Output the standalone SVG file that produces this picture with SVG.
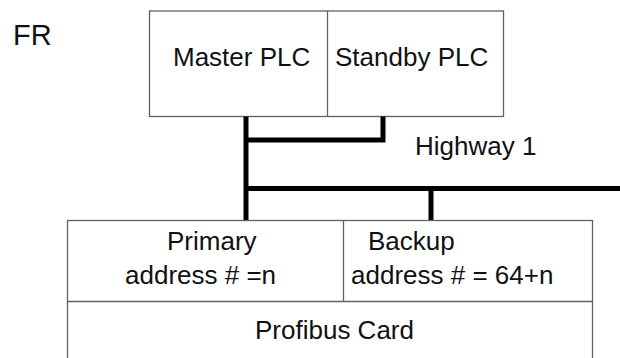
<svg xmlns="http://www.w3.org/2000/svg" width="620" height="358" viewBox="0 0 620 358">
  <style>
    .box { fill: #ffffff; stroke: #606060; stroke-width: 1.3; }
    .div { stroke: #606060; stroke-width: 1.3; fill: none; }
    .bus { stroke: #000000; stroke-width: 5; fill: none; stroke-linecap: butt; stroke-linejoin: miter; }
    .lbl { font-family: "Liberation Sans", Arial, sans-serif; font-size: 26px; fill: #111111; }
  </style>
  <rect width="620" height="358" fill="#ffffff"/>

  <text class="lbl" x="13" y="45" style="font-size:29px">FR</text>

  <!-- PLC pair -->
  <g id="plc">
    <rect class="box" x="149.5" y="11" width="354" height="105.5"/>
    <line class="div" x1="327.5" y1="11" x2="327.5" y2="116.5"/>
    <g id="master-plc">
      <text class="lbl" x="173" y="66">Master PLC</text>
    </g>
    <g id="standby-plc">
      <text class="lbl" x="335" y="66">Standby PLC</text>
    </g>
  </g>

  <!-- highway connections -->
  <g id="connectors">
    <polyline class="bus" points="246,116.5 246,220.5"/>
    <polyline class="bus" points="246,140 383,140 383,116.5"/>
    <polyline class="bus" points="246,188.5 620,188.5"/>
    <polyline class="bus" points="431,188.5 431,220.5"/>
  </g>

  <text id="highway-label" class="lbl" x="415" y="155">Highway 1</text>

  <!-- Profibus card -->
  <g id="profibus-card">
    <rect class="box" x="67.5" y="220.5" width="525" height="150"/>
    <line class="div" x1="67.5" y1="301.5" x2="592.5" y2="301.5"/>
    <line class="div" x1="343.5" y1="220.5" x2="343.5" y2="301.5"/>
    <g id="primary-address">
      <text class="lbl" x="167" y="250">Primary</text>
      <text class="lbl" x="125" y="284">address # =n</text>
    </g>
    <g id="backup-address">
      <text class="lbl" x="368" y="250">Backup</text>
      <text class="lbl" x="351" y="284">address # = 64+n</text>
    </g>
    <text class="lbl" x="255" y="339">Profibus Card</text>
  </g>
</svg>
